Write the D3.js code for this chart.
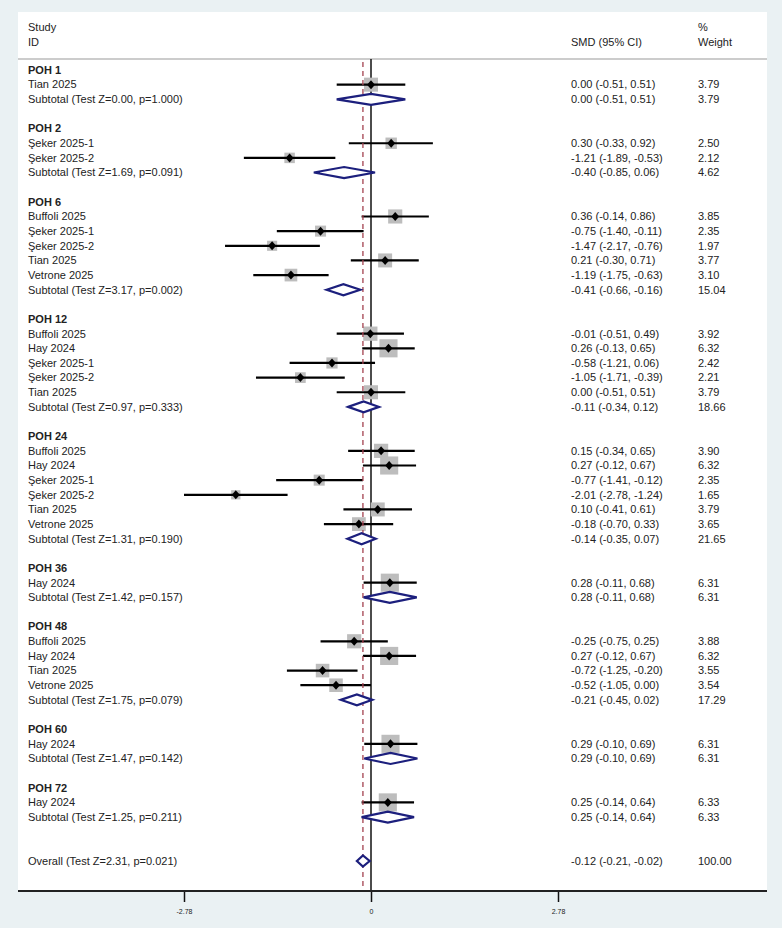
<!DOCTYPE html>
<html>
<head>
<meta charset="utf-8">
<script src="https://cdn.jsdelivr.net/npm/d3@7"></script>
<style>
  html, body { margin: 0; padding: 0; background: #eaf1f3; }
  svg { display: block; }
  text { font-family: "Liberation Sans", Arial, sans-serif; fill: #222; }
</style>
</head>
<body>
<svg id="chart" width="782" height="928"></svg>
<script>
// ---------------- DATA ----------------
const groups = ["POH 1", "POH 2", "POH 6", "POH 12", "POH 24", "POH 36", "POH 48", "POH 60", "POH 72"];

const studyGroup = [
  "POH 1",
  "POH 2", "POH 2",
  "POH 6", "POH 6", "POH 6", "POH 6", "POH 6",
  "POH 12", "POH 12", "POH 12", "POH 12", "POH 12",
  "POH 24", "POH 24", "POH 24", "POH 24", "POH 24", "POH 24",
  "POH 36",
  "POH 48", "POH 48", "POH 48", "POH 48",
  "POH 60",
  "POH 72"
];
const studyNames = [
  "Tian 2025",
  "Şeker 2025-1", "Şeker 2025-2",
  "Buffoli 2025", "Şeker 2025-1", "Şeker 2025-2", "Tian 2025", "Vetrone 2025",
  "Buffoli 2025", "Hay 2024", "Şeker 2025-1", "Şeker 2025-2", "Tian 2025",
  "Buffoli 2025", "Hay 2024", "Şeker 2025-1", "Şeker 2025-2", "Tian 2025", "Vetrone 2025",
  "Hay 2024",
  "Buffoli 2025", "Hay 2024", "Tian 2025", "Vetrone 2025",
  "Hay 2024",
  "Hay 2024"
];
const studySmd = [
  0.00,
  0.30, -1.21,
  0.36, -0.75, -1.47, 0.21, -1.19,
  -0.01, 0.26, -0.58, -1.05, 0.00,
  0.15, 0.27, -0.77, -2.01, 0.10, -0.18,
  0.28,
  -0.25, 0.27, -0.72, -0.52,
  0.29,
  0.25
];
const studyLo = [
  -0.51,
  -0.33, -1.89,
  -0.14, -1.40, -2.17, -0.30, -1.75,
  -0.51, -0.13, -1.21, -1.71, -0.51,
  -0.34, -0.12, -1.41, -2.78, -0.41, -0.70,
  -0.11,
  -0.75, -0.12, -1.25, -1.05,
  -0.10,
  -0.14
];
const studyHi = [
  0.51,
  0.92, -0.53,
  0.86, -0.11, -0.76, 0.71, -0.63,
  0.49, 0.65, 0.06, -0.39, 0.51,
  0.65, 0.67, -0.12, -1.24, 0.61, 0.33,
  0.68,
  0.25, 0.67, -0.20, 0.00,
  0.69,
  0.64
];
const studyWeight = [
  3.79,
  2.50, 2.12,
  3.85, 2.35, 1.97, 3.77, 3.10,
  3.92, 6.32, 2.42, 2.21, 3.79,
  3.90, 6.32, 2.35, 1.65, 3.79, 3.65,
  6.31,
  3.88, 6.32, 3.55, 3.54,
  6.31,
  6.33
];

const subZ   = ["0.00", "1.69", "3.17", "0.97", "1.31", "1.42", "1.75", "1.47", "1.25"];
const subP   = ["1.000", "0.091", "0.002", "0.333", "0.190", "0.157", "0.079", "0.142", "0.211"];
const subSmd = [0.00, -0.40, -0.41, -0.11, -0.14, 0.28, -0.21, 0.29, 0.25];
const subLo  = [-0.51, -0.85, -0.66, -0.34, -0.35, -0.11, -0.45, -0.10, -0.14];
const subHi  = [0.51, 0.06, -0.16, 0.12, 0.07, 0.68, 0.02, 0.69, 0.64];
const subWeight = [3.79, 4.62, 15.04, 18.66, 21.65, 6.31, 17.29, 6.31, 6.33];

const overallZ = "2.31", overallP = "0.021";
const overallSmd = -0.12, overallLo = -0.21, overallHi = -0.02, overallWeight = 100.00;

const tickValues = [-2.78, 0, 2.78];
const tickLabels = ["-2.78", "0", "2.78"];

// ---------------- LAYOUT ----------------
const svg = d3.select("#chart");
const W = 782, H = 928;
const panel = { left: 18, right: 767, top: 12, bottom: 891 };
const headerLineY = 59;
const colText = 28, colSmd = 571, colWeight = 698;

const fmt = v => v.toFixed(2);
const ciText = (m, l, h) => `${fmt(m)} (${fmt(l)}, ${fmt(h)})`;

// build row list
const rows = [];
let r = 0;
groups.forEach((g, gi) => {
  rows.push({ type: "header", row: r++, label: g });
  studyGroup.forEach((sg, si) => {
    if (sg === g) rows.push({ type: "study", row: r++, label: studyNames[si], m: studySmd[si], lo: studyLo[si], hi: studyHi[si], w: studyWeight[si] });
  });
  rows.push({ type: "sub", row: r++, label: `Subtotal (Test Z=${subZ[gi]}, p=${subP[gi]})`, m: subSmd[gi], lo: subLo[gi], hi: subHi[gi], w: subWeight[gi] });
  r++; // blank
});
r++;
rows.push({ type: "overall", row: r, label: `Overall (Test Z=${overallZ}, p=${overallP})`, m: overallSmd, lo: overallLo, hi: overallHi, w: overallWeight });

const y = d3.scaleLinear().domain([0, r]).range([70, 861]);
const x = d3.scaleLinear().domain([-2.78, 2.78]).range([184, 558]);

// panel
svg.append("rect").attr("x", 0).attr("y", 0).attr("width", W).attr("height", H).attr("fill", "#eaf1f3");
svg.append("rect").attr("x", panel.left).attr("y", panel.top)
  .attr("width", panel.right - panel.left).attr("height", panel.bottom - panel.top)
  .attr("fill", "#ffffff");

// header
const hdr = svg.append("g").style("font-size", "11px");
hdr.append("text").attr("x", colText).attr("y", 27).attr("dy", "0.35em").text("Study");
hdr.append("text").attr("x", colText).attr("y", 42).attr("dy", "0.35em").text("ID");
hdr.append("text").attr("x", colSmd).attr("y", 42).attr("dy", "0.35em").text("SMD (95% CI)");
hdr.append("text").attr("x", colWeight).attr("y", 27).attr("dy", "0.35em").text("%");
hdr.append("text").attr("x", colWeight).attr("y", 42).attr("dy", "0.35em").text("Weight");
svg.append("line").attr("x1", panel.left).attr("x2", panel.right)
  .attr("y1", headerLineY).attr("y2", headerLineY)
  .attr("stroke", "#9a9a9a").attr("stroke-width", 1.2);

// null line
svg.append("line").attr("x1", x(0)).attr("x2", x(0))
  .attr("y1", headerLineY).attr("y2", panel.bottom)
  .attr("stroke", "#111").attr("stroke-width", 1.5);

// text rows
const tg = svg.append("g").style("font-size", "11px");
rows.forEach(d => {
  tg.append("text").attr("x", colText).attr("y", y(d.row)).attr("dy", "0.35em")
    .style("font-weight", d.type === "header" ? "bold" : "normal")
    .text(d.label);
  if (d.type !== "header") {
    tg.append("text").attr("x", colSmd).attr("y", y(d.row)).attr("dy", "0.35em").text(ciText(d.m, d.lo, d.hi));
    tg.append("text").attr("x", colWeight).attr("y", y(d.row)).attr("dy", "0.35em").text(fmt(d.w));
  }
});

// study marks
const studies = rows.filter(d => d.type === "study");
const sg = svg.append("g");
sg.selectAll("rect.box").data(studies).enter().append("rect")
  .attr("x", d => x(d.m) - 3.6 * Math.sqrt(d.w))
  .attr("y", d => y(d.row) - 3.6 * Math.sqrt(d.w))
  .attr("width", d => 7.2 * Math.sqrt(d.w))
  .attr("height", d => 7.2 * Math.sqrt(d.w))
  .attr("fill", "#bdbdbd");
sg.selectAll("line.ci").data(studies).enter().append("line")
  .attr("x1", d => x(d.lo)).attr("x2", d => x(d.hi))
  .attr("y1", d => y(d.row)).attr("y2", d => y(d.row))
  .attr("stroke", "#000").attr("stroke-width", 2.2);
sg.selectAll("path.pt").data(studies).enter().append("path")
  .attr("d", d => {
    const cx = x(d.m), cy = y(d.row);
    return `M${cx - 4},${cy}L${cx},${cy - 4.5}L${cx + 4},${cy}L${cx},${cy + 4.5}Z`;
  })
  .attr("fill", "#000");

// overall dashed line
svg.append("line").attr("x1", x(overallSmd)).attr("x2", x(overallSmd))
  .attr("y1", 62).attr("y2", panel.bottom)
  .attr("stroke", "#a3414f").attr("stroke-width", 1.3)
  .attr("stroke-dasharray", "5,4");

// diamonds
const dia = rows.filter(d => d.type === "sub" || d.type === "overall");
svg.append("g").selectAll("path").data(dia).enter().append("path")
  .attr("d", d => {
    const cy = y(d.row), h = 5.5;
    return `M${x(d.lo)},${cy}L${x(d.m)},${cy - h}L${x(d.hi)},${cy}L${x(d.m)},${cy + h}Z`;
  })
  .attr("fill", "#fff").attr("stroke", "#1c1f7d").attr("stroke-width", 2.2)
  .attr("stroke-linejoin", "miter");

// axis
const axis = d3.axisBottom(x).tickValues(tickValues).tickSize(11)
  .tickFormat((d, i) => tickLabels[i]);
const ag = svg.append("g").attr("transform", `translate(0,${panel.bottom})`).call(axis);
ag.select(".domain").remove();
ag.append("line").attr("x1", panel.left).attr("x2", panel.right).attr("y1", 0).attr("y2", 0)
  .attr("stroke", "#222").attr("stroke-width", 2);
ag.selectAll(".tick line").attr("stroke", "#111").attr("stroke-width", 1.5);
ag.selectAll(".tick text").attr("y", 18).style("font-size", "7px")
  .style("font-family", "Liberation Sans, Arial, sans-serif").attr("fill", "#222");
</script>
</body>
</html>
